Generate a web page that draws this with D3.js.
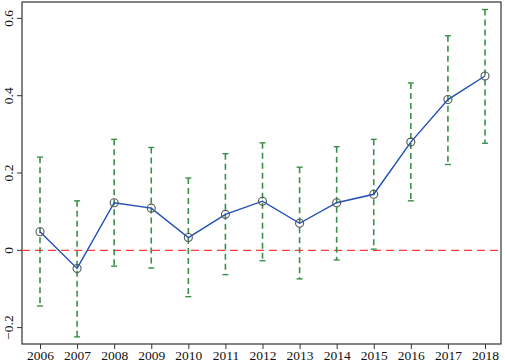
<!DOCTYPE html>
<html><head><meta charset="utf-8">
<script src="https://cdn.jsdelivr.net/npm/d3@7"></script>
<style>body{margin:0;background:#fff}svg{display:block}</style>
</head><body>
<script>
const years = [2006,2007,2008,2009,2010,2011,2012,2013,2014,2015,2016,2017,2018];
const estimates = [0.048,-0.047,0.123,0.109,0.033,0.093,0.127,0.070,0.123,0.145,0.280,0.390,0.451];
const upper = [0.241,0.128,0.287,0.266,0.187,0.250,0.278,0.215,0.268,0.287,0.433,0.555,0.623];
const lower = [-0.144,-0.224,-0.041,-0.046,-0.120,-0.063,-0.027,-0.074,-0.025,0.003,0.128,0.222,0.277];
const yTicks = [-0.2,0,0.2,0.4,0.6];

const W=505,H=363;
const L=22,T=2,R=501,B=344;
const svg=d3.select("body").append("svg").attr("width",W).attr("height",H);
const x=d3.scaleLinear().domain([2006,2018]).range([40,485]);
const y=d3.scaleLinear().domain([0,0.2]).range([250.3,173]);
const font="Liberation Serif, Times New Roman, serif";

svg.append("rect").attr("x",L).attr("y",T).attr("width",R-L).attr("height",B-T)
  .attr("fill","none").attr("stroke","#333").attr("stroke-width",1.2);

const xa=svg.append("g").attr("transform",`translate(0,${B})`)
  .call(d3.axisBottom(x).tickValues(years).tickFormat(d3.format("d")).tickSize(5));
xa.select(".domain").remove();
xa.selectAll("line").attr("stroke","#333");
xa.selectAll("text").attr("font-family",font).attr("font-size",13.5).attr("fill","#111")
  .attr("y",16).attr("dy",0);

const ya=svg.append("g").attr("transform",`translate(${L},0)`)
  .call(d3.axisLeft(y).tickValues(yTicks).tickFormat(d=>d===0?"0":d3.format(".1f")(d).replace("-","\u2212")).tickSize(5));
ya.select(".domain").remove();
ya.selectAll("line").attr("stroke","#333");
ya.selectAll(".tick").attr("transform",null);
ya.selectAll(".tick line").each(function(d){d3.select(this).attr("y1",y(d)).attr("y2",y(d));});
ya.selectAll("text").attr("font-family",font).attr("font-size",13.5).attr("fill","#111")
  .attr("text-anchor","middle").attr("x",0).attr("y",0).attr("dy","0.35em")
  .each(function(d){d3.select(this).attr("transform",`translate(${-14},${y(d)}) rotate(-90)`);});

// zero reference line
svg.append("line").attr("x1",L).attr("x2",R).attr("y1",y(0)).attr("y2",y(0))
  .attr("stroke","#ff3b3b").attr("stroke-width",1.3).attr("stroke-dasharray","8,5");

const green="#3b8f4a";
const g=svg.append("g");
years.forEach((yr,i)=>{
  g.append("line").attr("x1",x(yr)).attr("x2",x(yr)).attr("y1",y(upper[i])).attr("y2",y(lower[i]))
    .attr("stroke",green).attr("stroke-width",1.6).attr("stroke-dasharray","6,4");
  [upper[i],lower[i]].forEach(v=>{
    g.append("line").attr("x1",x(yr)-3).attr("x2",x(yr)+3).attr("y1",y(v)).attr("y2",y(v))
      .attr("stroke",green).attr("stroke-width",1.4);
  });
});

svg.append("path").datum(years.map((yr,i)=>[yr,estimates[i]]))
  .attr("d",d3.line().x(d=>x(d[0])).y(d=>y(d[1])))
  .attr("fill","none").attr("stroke","#1f4fb5").attr("stroke-width",1.4);

svg.selectAll("circle.pt").data(years).enter().append("circle")
  .attr("cx",d=>x(d)).attr("cy",(d,i)=>y(estimates[i])).attr("r",4)
  .attr("fill","none").attr("stroke","#555").attr("stroke-width",1.1);
</script>
</body></html>
